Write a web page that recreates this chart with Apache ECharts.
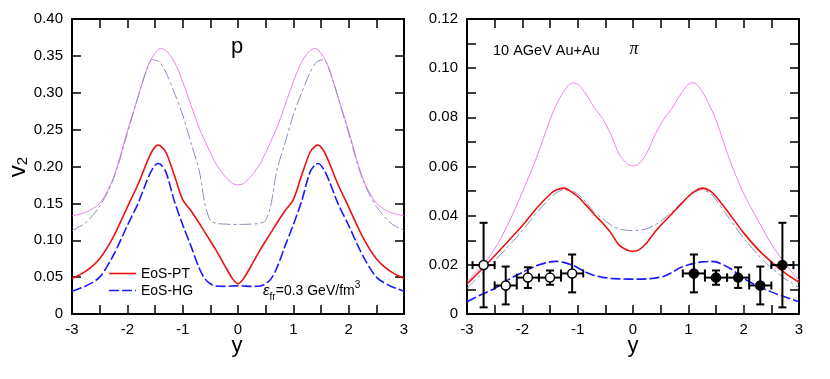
<!DOCTYPE html>
<html>
<head>
<meta charset="utf-8">
<script src="https://cdn.jsdelivr.net/npm/echarts@6/dist/echarts.min.js"></script>
<style>
  html, body { margin: 0; padding: 0; background: #fff; }
  #chart { width: 830px; height: 379px; }
</style>
</head>
<body>
<div id="chart"></div>
<script>
// 左图 质子 p
var yP = [-3, -2.75, -2.5, -2.25, -2, -1.8, -1.65, -1.55, -1.45, -1.4, -1.3, -1.15, -1, -0.85, -0.7, -0.6, -0.5, -0.4, -0.25, -0.1, 0,
          0.1, 0.25, 0.4, 0.5, 0.6, 0.7, 0.85, 1, 1.15, 1.3, 1.4, 1.45, 1.55, 1.65, 1.8, 2, 2.25, 2.5, 2.75, 3];
var pMagenta = [0.133, 0.138, 0.150, 0.185, 0.248, 0.296, 0.332, 0.348, 0.358, 0.360, 0.357, 0.342, 0.315, 0.283, 0.252, 0.235, 0.219, 0.204, 0.188, 0.177, 0.175,
                0.177, 0.188, 0.204, 0.219, 0.235, 0.252, 0.283, 0.315, 0.342, 0.357, 0.360, 0.358, 0.348, 0.332, 0.296, 0.248, 0.185, 0.150, 0.138, 0.133];
var pSlate = [0.113, 0.124, 0.146, 0.183, 0.245, 0.296, 0.331, 0.345, 0.343, 0.340, 0.327, 0.300, 0.270, 0.232, 0.194, 0.150, 0.127, 0.123, 0.122, 0.1215, 0.1215,
              0.1215, 0.122, 0.123, 0.127, 0.150, 0.194, 0.232, 0.270, 0.300, 0.327, 0.340, 0.343, 0.345, 0.331, 0.296, 0.245, 0.183, 0.146, 0.124, 0.113];
var pRed = [0.048, 0.058, 0.075, 0.105, 0.145, 0.177, 0.205, 0.221, 0.229, 0.228, 0.219, 0.188, 0.155, 0.140, 0.123, 0.111, 0.099, 0.087, 0.067, 0.048, 0.041,
            0.048, 0.067, 0.087, 0.099, 0.111, 0.123, 0.140, 0.155, 0.188, 0.219, 0.228, 0.229, 0.221, 0.205, 0.177, 0.145, 0.105, 0.075, 0.058, 0.048];
var pBlue = [0.031, 0.038, 0.050, 0.080, 0.120, 0.151, 0.180, 0.196, 0.204, 0.203, 0.192, 0.153, 0.121, 0.092, 0.062, 0.048, 0.041, 0.038, 0.0375, 0.038, 0.0384,
             0.038, 0.0375, 0.038, 0.041, 0.048, 0.062, 0.092, 0.121, 0.153, 0.192, 0.203, 0.204, 0.196, 0.180, 0.151, 0.120, 0.080, 0.050, 0.038, 0.031];

// 右图 π
var yPi = [-3, -2.75, -2.5, -2.25, -2, -1.75, -1.5, -1.4, -1.25, -1.1, -1, -0.85, -0.7, -0.55, -0.4, -0.25, -0.1, 0,
           0.1, 0.25, 0.4, 0.55, 0.7, 0.85, 1, 1.1, 1.25, 1.4, 1.5, 1.75, 2, 2.25, 2.5, 2.75, 3];
var piMagenta = [0.0132, 0.0190, 0.0264, 0.0370, 0.0495, 0.0632, 0.0790, 0.0845, 0.0905, 0.0940, 0.0935, 0.0895, 0.0840, 0.0795, 0.0730, 0.0650, 0.0610, 0.0603,
                 0.0610, 0.0655, 0.0730, 0.0790, 0.0835, 0.0890, 0.0935, 0.0940, 0.0905, 0.0840, 0.0790, 0.0625, 0.0490, 0.0385, 0.0285, 0.0205, 0.0136];
var piRed = [0.0122, 0.0178, 0.0237, 0.0298, 0.0359, 0.0428, 0.0487, 0.0503, 0.0512, 0.0495, 0.0478, 0.0443, 0.0405, 0.0370, 0.0330, 0.0280, 0.0259, 0.0255,
             0.0260, 0.0290, 0.0335, 0.0372, 0.0407, 0.0443, 0.0478, 0.0497, 0.0512, 0.0500, 0.0478, 0.0405, 0.0330, 0.0265, 0.0212, 0.0166, 0.0129];
var piSlate = [0.0104, 0.0160, 0.0217, 0.0276, 0.0339, 0.0410, 0.0470, 0.0490, 0.0506, 0.0499, 0.0488, 0.0455, 0.0414, 0.0388, 0.0362, 0.0346, 0.0340, 0.0339,
               0.0340, 0.0347, 0.0362, 0.0386, 0.0415, 0.0447, 0.0478, 0.0494, 0.0506, 0.0490, 0.0465, 0.0385, 0.0308, 0.0243, 0.0188, 0.0143, 0.0108];
var piBlue = [0.0050, 0.0078, 0.0104, 0.0140, 0.0169, 0.0196, 0.0212, 0.0214, 0.0210, 0.0199, 0.0188, 0.0170, 0.0157, 0.0149, 0.0145, 0.0143, 0.0142, 0.0142,
              0.0142, 0.0143, 0.0146, 0.0153, 0.0168, 0.0188, 0.0200, 0.0206, 0.0212, 0.0214, 0.0212, 0.0186, 0.0145, 0.0114, 0.0090, 0.0069, 0.0050];

// 实验数据点 (空心 / 实心)
var expY = [-2.7, -2.3, -1.9, -1.5, -1.1, 1.1, 1.5, 1.9, 2.3, 2.7];
var expV2 = [0.0199, 0.0116, 0.0148, 0.0148, 0.0165, 0.0165, 0.0148, 0.0148, 0.0116, 0.0199];
var expErr = [0.0172, 0.0077, 0.0042, 0.0029, 0.0077, 0.0077, 0.0029, 0.0042, 0.0077, 0.0172];
var expYErr = [0.2, 0.2, 0.2, 0.2, 0.2, 0.2, 0.2, 0.2, 0.2, 0.2];
var expFilled = [0, 0, 0, 0, 0, 1, 1, 1, 1, 1];

var FONT = 'Liberation Sans, Arial, sans-serif';

function zip(xs, vs) {
    var out = [];
    for (var i = 0; i < xs.length; i++) out.push([xs[i], vs[i]]);
    return out;
}

function xAxisOf(grid, pos) {
    return {
        type: 'value', gridIndex: grid, position: pos,
        min: -3, max: 3, interval: 1,
        axisLine: { show: true, onZero: false, lineStyle: { color: '#000', width: 2 } },
        axisTick: { show: true, inside: true, length: 9, lineStyle: { color: '#000', width: 1.5 } },
        minorTick: { show: true, splitNumber: 2, length: 9, lineStyle: { color: '#000', width: 1.5 } },
        splitLine: { show: false },
        axisLabel: { show: pos == 'bottom', color: '#000', fontFamily: FONT, fontSize: 15, margin: 8 }
    };
}

function yAxisOf(grid, pos, max, step, minor) {
    return {
        type: 'value', gridIndex: grid, position: pos,
        min: 0, max: max, interval: step,
        axisLine: { show: true, onZero: false, lineStyle: { color: '#000', width: 2 } },
        axisTick: { show: true, inside: true, length: 9, lineStyle: { color: '#000', width: 1.5 } },
        minorTick: { show: minor, splitNumber: 2, length: 9, lineStyle: { color: '#000', width: 1.5 } },
        splitLine: { show: false },
        axisLabel: {
            show: pos == 'left', color: '#000', fontFamily: FONT, fontSize: 15, margin: 9,
            formatter: function (v) { return v === 0 ? '0' : v.toFixed(2); }
        }
    };
}

function curve(name, xi, yi, xs, vs, color, width, dash, z) {
    return {
        name: name, type: 'line', xAxisIndex: xi, yAxisIndex: yi,
        data: zip(xs, vs), showSymbol: false, smooth: 0.3, z: z,
        lineStyle: { color: color, width: width, type: dash }
    };
}

// 误差棒
function renderErr(params, api) {
    var x = api.value(0), y = api.value(1), ey = api.value(2), ex = api.value(3), filled = api.value(4);
    var c = api.coord([x, y]);
    var l = api.coord([x - ex, y]), r = api.coord([x + ex, y]);
    var t = api.coord([x, y + ey]), b = api.coord([x, y - ey]);
    var cap = 4;
    var ls = { stroke: '#000', lineWidth: 2 };
    return {
        type: 'group',
        children: [
            { type: 'line', shape: { x1: l[0], y1: l[1], x2: r[0], y2: r[1] }, style: ls },
            { type: 'line', shape: { x1: t[0], y1: t[1], x2: b[0], y2: b[1] }, style: ls },
            { type: 'line', shape: { x1: l[0], y1: l[1] - cap, x2: l[0], y2: l[1] + cap }, style: ls },
            { type: 'line', shape: { x1: r[0], y1: r[1] - cap, x2: r[0], y2: r[1] + cap }, style: ls },
            { type: 'line', shape: { x1: t[0] - cap, y1: t[1], x2: t[0] + cap, y2: t[1] }, style: ls },
            { type: 'line', shape: { x1: b[0] - cap, y1: b[1], x2: b[0] + cap, y2: b[1] }, style: ls },
            { type: 'circle', shape: { cx: c[0], cy: c[1], r: 4.5 },
              style: { fill: filled ? '#000' : '#fff', stroke: '#000', lineWidth: 1.5 } }
        ]
    };
}

var expData = [];
for (var i = 0; i < expY.length; i++) {
    expData.push([expY[i], expV2[i], expErr[i], expYErr[i], expFilled[i]]);
}

var MAG = '#f27ff2', SLATE = '#8c8cc4', RED = '#ee1111', BLUE = '#1a1aff';
var DASH = [10, 3], DASHDOT = [12, 3, 3, 3];

var chart = echarts.init(document.getElementById('chart'), null, { renderer: 'canvas' });
chart.setOption({
    backgroundColor: '#fff',
    animation: false,
    grid: [
        { left: 72, top: 19, width: 332, height: 295 },
        { left: 467, top: 19, width: 332, height: 295 }
    ],
    xAxis: [xAxisOf(0, 'bottom'), xAxisOf(0, 'top'), xAxisOf(1, 'bottom'), xAxisOf(1, 'top')],
    yAxis: [yAxisOf(0, 'left', 0.4, 0.05, false), yAxisOf(0, 'right', 0.4, 0.05, false),
            yAxisOf(1, 'left', 0.12, 0.02, true), yAxisOf(1, 'right', 0.12, 0.02, true)],
    series: [
        curve('p-mag', 0, 0, yP, pMagenta, MAG, 1, 'solid', 2),
        curve('p-slate', 0, 0, yP, pSlate, SLATE, 1, DASHDOT, 2),
        curve('EoS-PT', 0, 0, yP, pRed, RED, 1.6, 'solid', 3),
        curve('EoS-HG', 0, 0, yP, pBlue, BLUE, 1.6, DASH, 3),
        curve('pi-mag', 2, 2, yPi, piMagenta, MAG, 1, 'solid', 2),
        curve('pi-slate', 2, 2, yPi, piSlate, SLATE, 1, DASHDOT, 2),
        curve('pi-red', 2, 2, yPi, piRed, RED, 1.6, 'solid', 3),
        curve('pi-blue', 2, 2, yPi, piBlue, BLUE, 1.6, DASH, 3),
        {
            type: 'custom', xAxisIndex: 2, yAxisIndex: 2, z: 5,
            renderItem: renderErr, data: expData,
            encode: { x: 0, y: 1 }
        }
    ],
    graphic: [
        // 坐标轴名称
        { type: 'text', x: 16, y: 167, rotation: Math.PI / 2,
          style: { text: '{v|v}{s|2}', align: 'center', verticalAlign: 'middle', textAlign: 'center', textVerticalAlign: 'middle',
                   rich: { v: { fontSize: 24, fontFamily: FONT, fill: '#000', color: '#000', lineHeight: 28, verticalAlign: 'bottom' },
                           s: { fontSize: 15, fontFamily: FONT, fill: '#000', color: '#000', lineHeight: 20, verticalAlign: 'bottom' } } } },
        { type: 'text', x: 237, y: 346,
          style: { text: 'y', font: '22px ' + FONT, fill: '#000', align: 'center', verticalAlign: 'middle', textAlign: 'center', textVerticalAlign: 'middle' } },
        { type: 'text', x: 633, y: 346,
          style: { text: 'y', font: '22px ' + FONT, fill: '#000', align: 'center', verticalAlign: 'middle', textAlign: 'center', textVerticalAlign: 'middle' } },
        // 图内文字
        { type: 'text', x: 237, y: 47,
          style: { text: 'p', font: '22px ' + FONT, fill: '#000', align: 'center', verticalAlign: 'middle', textAlign: 'center', textVerticalAlign: 'middle' } },
        { type: 'text', x: 493, y: 51,
          style: { text: '10 AGeV Au+Au', font: '14.5px ' + FONT, fill: '#000', align: 'left', verticalAlign: 'middle', textAlign: 'left', textVerticalAlign: 'middle' } },
        { type: 'text', x: 634, y: 49,
          style: { text: 'π', font: 'italic 18px Liberation Serif, serif', fill: '#000', align: 'center', verticalAlign: 'middle', textAlign: 'center', textVerticalAlign: 'middle' } },
        // 图例
        { type: 'line', shape: { x1: 109, y1: 273.5, x2: 136, y2: 273.5 }, style: { stroke: RED, lineWidth: 1.6 } },
        { type: 'line', shape: { x1: 109, y1: 290.5, x2: 136, y2: 290.5 }, style: { stroke: BLUE, lineWidth: 1.6, lineDash: DASH } },
        { type: 'text', x: 141, y: 274,
          style: { text: 'EoS-PT', font: '14px ' + FONT, fill: '#000', align: 'left', verticalAlign: 'middle', textAlign: 'left', textVerticalAlign: 'middle' } },
        { type: 'text', x: 141, y: 291,
          style: { text: 'EoS-HG', font: '14px ' + FONT, fill: '#000', align: 'left', verticalAlign: 'middle', textAlign: 'left', textVerticalAlign: 'middle' } },
        { type: 'text', x: 263, y: 291,
          style: { text: '{e|ε}{s|fr}{t|=0.3 GeV/fm}{u|3}', align: 'left', verticalAlign: 'middle', textAlign: 'left', textVerticalAlign: 'middle',
                   rich: { e: { fontSize: 15, fontFamily: FONT, fontStyle: 'italic', fill: '#000', lineHeight: 22, verticalAlign: 'middle' },
                           s: { fontSize: 10, fontFamily: FONT, fill: '#000', lineHeight: 22, verticalAlign: 'bottom' },
                           t: { fontSize: 14, fontFamily: FONT, fill: '#000', lineHeight: 22, verticalAlign: 'middle' },
                           u: { fontSize: 10, fontFamily: FONT, fill: '#000', lineHeight: 22, verticalAlign: 'top' } } } }
    ]
});
</script>
</body>
</html>
